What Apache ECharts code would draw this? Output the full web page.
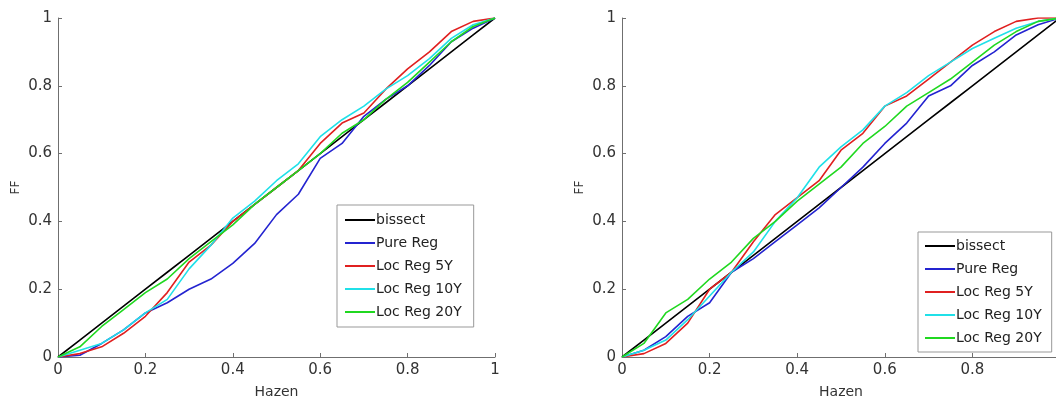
<!DOCTYPE html>
<html>
<head>
<meta charset="utf-8">
<script src="https://cdn.jsdelivr.net/npm/echarts@6/dist/echarts.min.js"></script>
<style>
  html, body { margin: 0; padding: 0; background: #fff; }
  #chart { width: 1056px; height: 401px; }
</style>
</head>
<body>
<div id="chart"></div>
<script>
// Hazen plotting positions (x) and FF values for each method
const hazen = [0, 0.05, 0.1, 0.15, 0.2, 0.25, 0.3, 0.35, 0.4, 0.45, 0.5, 0.55, 0.6, 0.65, 0.7, 0.75, 0.8, 0.85, 0.9, 0.95, 1];
const seriesNames = ['bissect', 'Pure Reg', 'Loc Reg 5Y', 'Loc Reg 10Y', 'Loc Reg 20Y'];
const colors = ['#000000', '#2424d0', '#e02020', '#20e0e8', '#20d820'];
const xTicks = [0, 0.2, 0.4, 0.6, 0.8, 1];

// left panel
const leftBissect = [0, 0.05, 0.1, 0.15, 0.2, 0.25, 0.3, 0.35, 0.4, 0.45, 0.5, 0.55, 0.6, 0.65, 0.7, 0.75, 0.8, 0.85, 0.9, 0.95, 1];
const leftPure = [0, 0.005, 0.04, 0.08, 0.13, 0.16, 0.2, 0.23, 0.276, 0.335, 0.42, 0.48, 0.586, 0.63, 0.71, 0.76, 0.8, 0.86, 0.93, 0.97, 1];
const left5Y = [0, 0.01, 0.03, 0.07, 0.12, 0.19, 0.28, 0.33, 0.4, 0.45, 0.5, 0.55, 0.63, 0.69, 0.72, 0.79, 0.85, 0.9, 0.96, 0.99, 1];
const left10Y = [0, 0.02, 0.04, 0.08, 0.13, 0.17, 0.26, 0.33, 0.41, 0.46, 0.52, 0.57, 0.65, 0.7, 0.74, 0.79, 0.83, 0.88, 0.94, 0.98, 1];
const left20Y = [0, 0.03, 0.09, 0.14, 0.19, 0.23, 0.29, 0.34, 0.39, 0.45, 0.5, 0.55, 0.6, 0.66, 0.7, 0.76, 0.81, 0.87, 0.93, 0.975, 1];

// right panel
const rightBissect = [0, 0.05, 0.1, 0.15, 0.2, 0.25, 0.3, 0.35, 0.4, 0.45, 0.5, 0.55, 0.6, 0.65, 0.7, 0.75, 0.8, 0.85, 0.9, 0.95, 1];
const rightPure = [0, 0.02, 0.06, 0.12, 0.16, 0.25, 0.29, 0.34, 0.39, 0.44, 0.5, 0.56, 0.63, 0.69, 0.77, 0.8, 0.86, 0.9, 0.95, 0.98, 1];
const right5Y = [0, 0.01, 0.04, 0.1, 0.2, 0.25, 0.34, 0.42, 0.47, 0.52, 0.61, 0.66, 0.74, 0.77, 0.82, 0.87, 0.92, 0.96, 0.99, 1, 1];
const right10Y = [0, 0.02, 0.05, 0.11, 0.18, 0.25, 0.31, 0.4, 0.47, 0.56, 0.62, 0.67, 0.74, 0.78, 0.83, 0.87, 0.91, 0.94, 0.97, 0.99, 1];
const right20Y = [0, 0.04, 0.13, 0.17, 0.23, 0.28, 0.35, 0.4, 0.46, 0.51, 0.56, 0.63, 0.68, 0.74, 0.78, 0.82, 0.87, 0.92, 0.96, 0.99, 1];

const panels = [
  [leftBissect, leftPure, left5Y, left10Y, left20Y],
  [rightBissect, rightPure, right5Y, right10Y, right20Y]
];

const FONT = 'DejaVu Sans';
const axisGray = '#6f6f6f';

function makeXAxis(idx) {
  return {
    type: 'value', gridIndex: idx, min: 0, max: 1, interval: 0.2,
    name: 'Hazen', nameLocation: 'middle', nameGap: 28,
    nameTextStyle: { fontFamily: FONT, fontSize: 14, color: '#333' },
    axisLine: { lineStyle: { color: axisGray } },
    axisTick: { inside: true, length: 4, lineStyle: { color: axisGray } },
    axisLabel: { fontFamily: FONT, fontSize: 15, color: '#333', margin: 6,
      formatter: v => (xTicks.some(t => Math.abs(t - v) < 1e-9) ? String(+v.toFixed(1)) : '') },
    splitLine: { show: false }
  };
}

function makeYAxis(idx) {
  return {
    type: 'value', gridIndex: idx, min: 0, max: 1, interval: 0.2,
    name: 'FF', nameLocation: 'middle', nameGap: 36, nameRotate: 90,
    nameTextStyle: { fontFamily: FONT, fontSize: 12, color: '#333' },
    axisLine: { show: true, lineStyle: { color: axisGray } },
    axisTick: { show: true, inside: true, length: 4, lineStyle: { color: axisGray } },
    axisLabel: { fontFamily: FONT, fontSize: 15, color: '#333', margin: 6,
      formatter: v => String(+v.toFixed(1)) },
    splitLine: { show: false }
  };
}

const series = [];
panels.forEach((panel, p) => {
  panel.forEach((vals, i) => {
    series.push({
      name: seriesNames[i],
      type: 'line',
      xAxisIndex: p, yAxisIndex: p,
      data: hazen.map((x, k) => [x, vals[k]]),
      symbol: 'none',
      lineStyle: { color: colors[i], width: 1.6 },
      itemStyle: { color: colors[i] },
      animation: false
    });
  });
});

const legendBase = {
  data: seriesNames.map(n => ({ name: n, icon: 'rect' })),
  orient: 'vertical',
  itemWidth: 30, itemHeight: 2,
  borderColor: '#999', borderWidth: 1, backgroundColor: '#fff',
  textStyle: { fontFamily: FONT, fontSize: 14, lineHeight: 16, color: '#222', padding: [0, 0, 0, -4] },
  selectedMode: false
};

const chart = echarts.init(document.getElementById('chart'), null, { renderer: 'canvas' });
chart.setOption({
  backgroundColor: '#fff',
  animation: false,
  grid: [
    { left: 58, top: 18, width: 437, height: 339, outerBoundsMode: 'none' },
    { left: 622, top: 18, width: 438, height: 339, outerBoundsMode: 'none' }
  ],
  xAxis: [makeXAxis(0), makeXAxis(1)],
  yAxis: [makeYAxis(0), makeYAxis(1)],
  legend: [
    Object.assign({}, legendBase, { left: 337, top: 205, itemGap: 7, padding: [7, 12, 7, 8] }),
    Object.assign({}, legendBase, { left: 918, top: 232, itemGap: 7, padding: [6, 10, 6, 7] })
  ],
  series: series
});
</script>
</body>
</html>
